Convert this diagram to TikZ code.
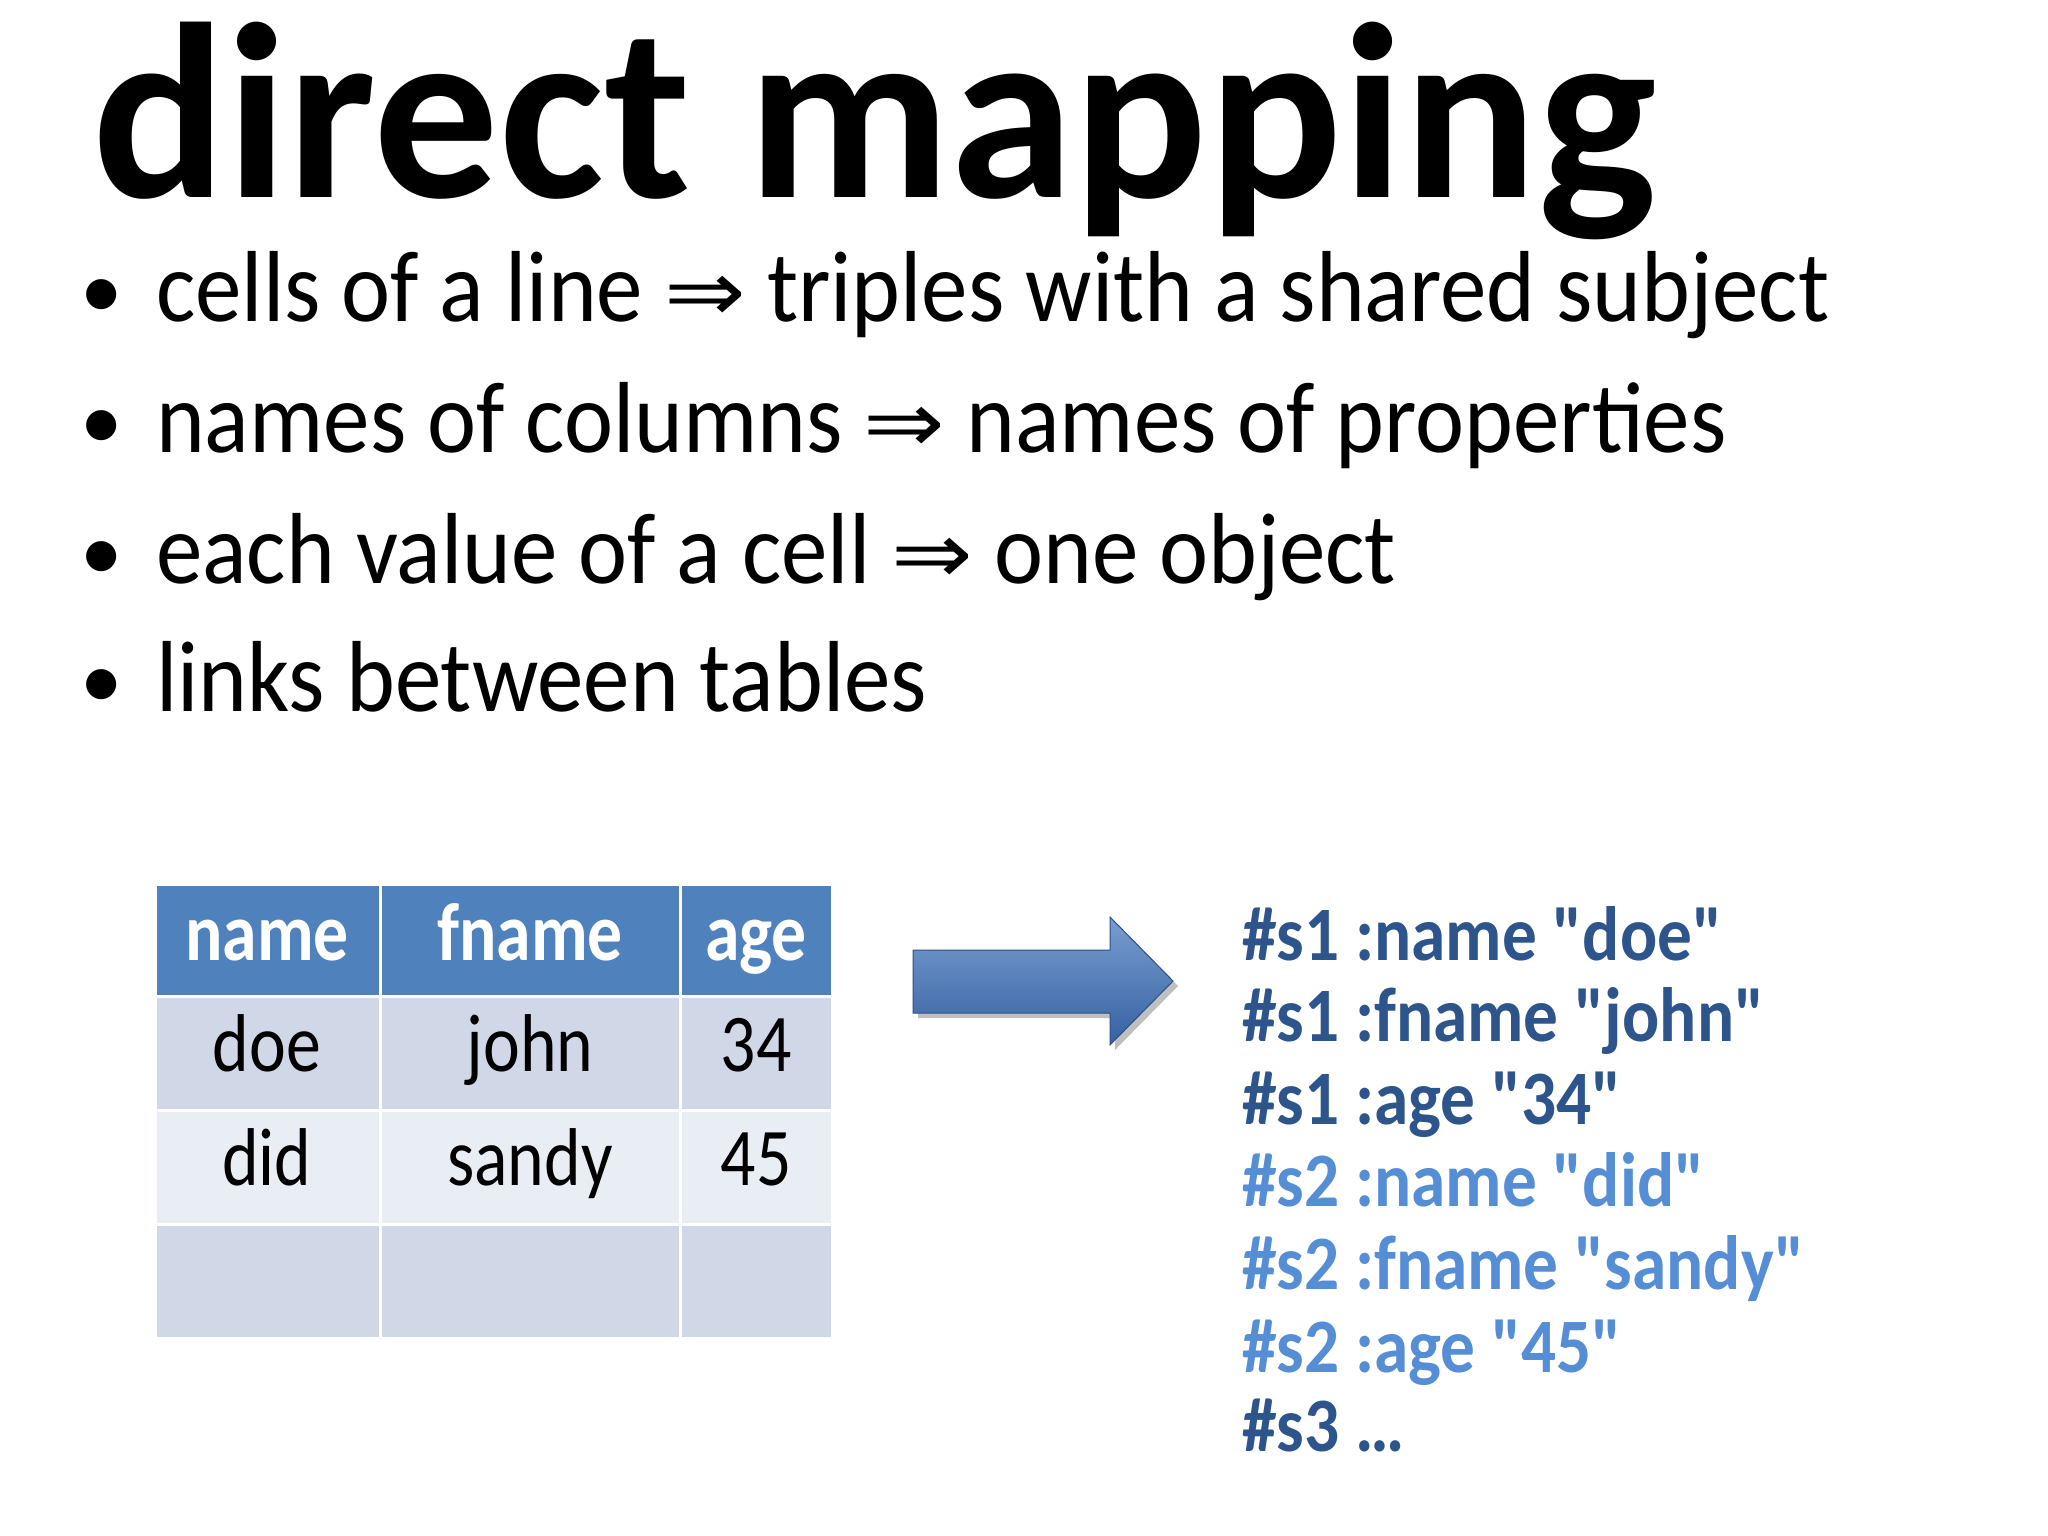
\documentclass[tikz,border=0pt]{standalone}
\usepackage{fontspec}
\setmainfont{Carlito}
\newfontfamily\djv{DejaVu Sans}
\newcommand{\sqz}[2]{\scalebox{#1}[1]{#2}}
\newcommand{\qq}{\textquotedbl}
\newcommand{\imp}{{\djv\scalebox{1.05}[0.85]{⇒}}}
\begin{document}
\begin{tikzpicture}[x=1pt,y=-1pt,
  ttl/.style={anchor=base west,inner sep=0pt,font=\fontsize{250}{250}\selectfont\bfseries},
  bul/.style={anchor=base west,inner sep=0pt,font=\fontsize{101}{101}\selectfont},
  dot/.style={anchor=base west,inner sep=0pt,font=\fontsize{85}{85}\selectfont},
  hdt/.style={anchor=base,inner sep=0pt,text=white,font=\fontsize{82}{82}\selectfont\bfseries},
  cel/.style={anchor=base,inner sep=0pt,font=\fontsize{82}{82}\selectfont},
  hd/.style={fill=hdcol,draw=white,line width=3pt},
  ra/.style={fill=rowa,draw=white,line width=3pt},
  rb/.style={fill=rowb,draw=white,line width=3pt},
  tri/.style={anchor=base west,inner sep=0pt,font=\fontsize{77}{77}\selectfont\bfseries}]
\definecolor{hdcol}{HTML}{4F81BD}
\definecolor{rowa}{HTML}{D0D8E8}
\definecolor{rowb}{HTML}{E9EDF4}
\definecolor{dk}{HTML}{2D558C}
\definecolor{lt}{HTML}{558ED5}
\definecolor{arr}{HTML}{3F73BD}
\useasboundingbox (0,0) rectangle (2048,1536);
\fill[white] (0,0) rectangle (2048,1536);
\node[ttl] (title) at (92,197) {direct mapping};
\node[dot] (b1) at (80,318) {•};
\node[bul] (t1) at (156,321) {\sqz{0.92}{cells of a line \imp{} triples with a shared subject}};
\node[dot] (b2) at (80,449) {•};
\node[bul] (t2) at (156,452) {\sqz{0.92}{names of columns \imp{} names of properties}};
\node[dot] (b3) at (80,580) {•};
\node[bul] (t3) at (156,583) {\sqz{0.92}{each value of a cell \imp{} one object}};
\node[dot] (b4) at (80,708) {•};
\node[bul] (t4) at (156,711) {\sqz{0.92}{links between tables}};
% table
\path[hd] (155,884) rectangle (380,996); \node[hdt] (h1) at (267,960) {\sqz{0.85}{name}};
\path[hd] (380,884) rectangle (680,996); \node[hdt] (h2) at (530,960) {\sqz{0.85}{fname}};
\path[hd] (680,884) rectangle (832,996); \node[hdt] (h3) at (756,960) {\sqz{0.85}{age}};
\path[ra] (155,996) rectangle (380,1110); \node[cel] (c11) at (267,1071) {\sqz{0.85}{doe}};
\path[ra] (380,996) rectangle (680,1110); \node[cel] (c12) at (530,1071) {\sqz{0.85}{john}};
\path[ra] (680,996) rectangle (832,1110); \node[cel] (c13) at (756,1071) {\sqz{0.85}{34}};
\path[rb] (155,1110) rectangle (380,1224); \node[cel] (c21) at (267,1185) {\sqz{0.85}{did}};
\path[rb] (380,1110) rectangle (680,1224); \node[cel] (c22) at (530,1185) {\sqz{0.85}{sandy}};
\path[rb] (680,1110) rectangle (832,1224); \node[cel] (c23) at (756,1185) {\sqz{0.85}{45}};
\path[ra] (155,1224) rectangle (380,1338);
\path[ra] (380,1224) rectangle (680,1338);
\path[ra] (680,1224) rectangle (832,1338);
% arrow
\fill[black!25] (918,955) -- (1115,955) -- (1115,922) -- (1178,986) -- (1115,1050) -- (1115,1018) -- (918,1018) -- cycle;
\shade[top color=arr!70!white,bottom color=arr!85!black,draw=arr!70!black,line width=1pt]
 (913,950) -- (1110,950) -- (1110,917) -- (1173,981) -- (1110,1045) -- (1110,1013) -- (913,1013) -- cycle;
% triples
\node[tri,text=dk] (r1) at (1242,960) {\sqz{0.9}{\#s1 :name \qq doe\qq}};
\node[tri,text=dk] (r2) at (1242,1041) {\sqz{0.9}{\#s1 :fname \qq john\qq}};
\node[tri,text=dk] (r3) at (1242,1124) {\sqz{0.9}{\#s1 :age \qq 34\qq}};
\node[tri,text=lt] (r4) at (1242,1206) {\sqz{0.9}{\#s2 :name \qq did\qq}};
\node[tri,text=lt] (r5) at (1242,1289) {\sqz{0.9}{\#s2 :fname \qq sandy\qq}};
\node[tri,text=lt] (r6) at (1242,1372) {\sqz{0.9}{\#s2 :age \qq 45\qq}};
\node[tri,text=dk] (r7) at (1242,1451) {\sqz{0.9}{\#s3 …}};
\end{tikzpicture}
\end{document}
